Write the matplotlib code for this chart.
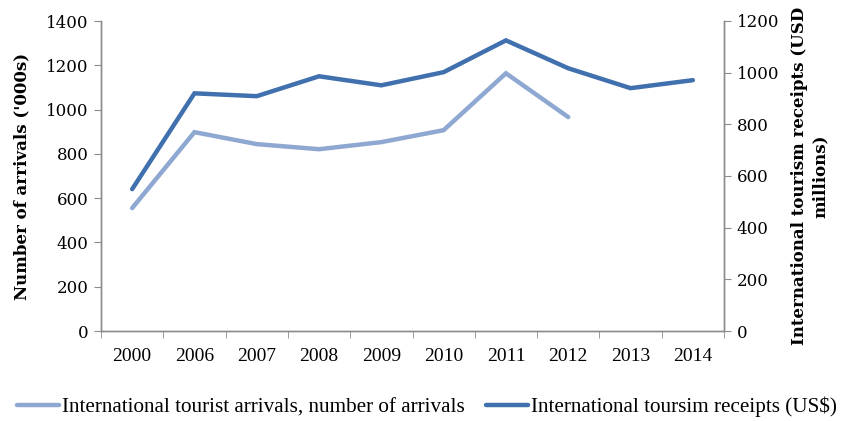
import matplotlib
matplotlib.use("Agg")
import matplotlib.pyplot as plt
import numpy as np

years = ["2000", "2006", "2007", "2008", "2009", "2010", "2011", "2012", "2013", "2014"]
arrivals = [555, 898, 844, 821, 853, 907, 1164, 966, None, None]
receipts = [549, 920, 909, 986, 951, 1002, 1125, 1017, 940, 971]

light = "#8EA8D2"
dark = "#4070AE"
grey = "#8C8C8C"

plt.rcParams['font.family'] = ['DejaVu Serif']

fig = plt.figure(figsize=(8.57, 4.21), dpi=100)
ax = fig.add_axes([101/857, 1-331/421, (724-101)/857, 310/421])
ax2 = ax.twinx()

x = np.arange(len(years))
arr = np.array([np.nan if v is None else v for v in arrivals], dtype=float)
rec = np.array(receipts, dtype=float)

l1, = ax.plot(x, arr, color=light, lw=3.2, solid_capstyle='round', solid_joinstyle='miter')
l2, = ax2.plot(x, rec, color=dark, lw=3.2, solid_capstyle='round', solid_joinstyle='miter')

ax.set_xlim(-0.5, len(years)-0.5)
ax.set_ylim(0, 1400)
ax.set_yticks(np.arange(0, 1401, 200))
ax2.set_ylim(0, 1200)
ax2.set_yticks(np.arange(0, 1201, 200))

ax.set_xticks(x)
ax.set_xticklabels(years, fontfamily='Liberation Serif', fontsize=14)
ax.set_xticks(np.arange(-0.5, len(years), 1), minor=True)
ax.tick_params(axis='x', which='major', length=0, pad=12)
ax.tick_params(axis='x', which='minor', length=5, direction='out', color=grey)
ax.tick_params(axis='y', length=5, color=grey, labelsize=12, pad=4)
ax2.tick_params(axis='y', length=5, color=grey, labelsize=12, pad=4)

for a in (ax, ax2):
    a.spines['top'].set_visible(False)
    for s in ('left', 'right', 'bottom'):
        a.spines[s].set_color(grey)
        a.spines[s].set_linewidth(1.0)

ax.set_ylabel("Number of arrivals ('000s)", fontsize=12, fontweight='bold', labelpad=11)
ax2.set_ylabel("International tourism receipts (USD\nmillions)", fontsize=12,
               fontweight='bold', labelpad=9, linespacing=1.25)

leg = fig.legend([l1, l2],
                 ["International tourist arrivals, number of arrivals",
                  "International toursim receipts (US$)"],
                 loc='center', bbox_to_anchor=(0.498, 1-407/421), ncol=2, frameon=False,
                 prop={'family': 'Liberation Serif', 'size': 15.2},
                 handlelength=2.0, handletextpad=0.12, columnspacing=1.0,
                 borderpad=0.1, borderaxespad=0.0)

fig.savefig("out.png", dpi=100)
